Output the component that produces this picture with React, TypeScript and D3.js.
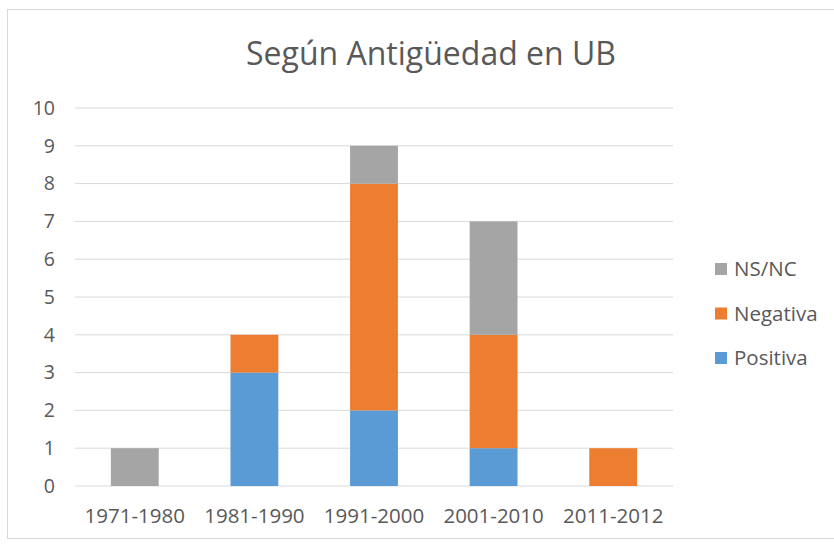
import React from "react";
import * as d3 from "d3";

const categories = ["1971-1980", "1981-1990", "1991-2000", "2001-2010", "2011-2012"];
const positiva = [0, 3, 2, 1, 0];
const negativa = [0, 1, 6, 3, 1];
const nsnc = [1, 0, 1, 3, 0];
const yTicks = [0, 1, 2, 3, 4, 5, 6, 7, 8, 9, 10];
const seriesNames = ["Positiva", "Negativa", "NS/NC"];
const seriesColors = ["#5B9BD5", "#ED7D31", "#A5A5A5"];

const W = 834, H = 545;
const FONT = "'Open Sans', 'Noto Sans', sans-serif";

export default function App() {
  const rows = categories.map((c, i) => ({ cat: c, Positiva: positiva[i], Negativa: negativa[i], "NS/NC": nsnc[i] }));
  const stack = d3.stack<any>().keys(seriesNames)(rows);
  const x = d3.scaleBand().domain(categories).range([75, 673]).paddingInner(0.6).paddingOuter(0.3);
  const y = d3.scaleLinear().domain([0, 10]).range([486, 108]);
  const legendOrder = [2, 1, 0];
  return (
    <svg width={W} height={H} style={{ position: "absolute", left: 0, top: 0 }} fontFamily={FONT}>
      <rect x={0} y={0} width={W} height={H} fill="#fff" />
      <rect x={7.5} y={9.5} width={W} height={529} fill="none" stroke="#d9d9d9" />
      <text x={431} y={65} textAnchor="middle" fontSize={32} fill="#595959">Según Antigüedad en UB</text>
      {yTicks.map((t) => (
        <g key={t}>
          <line x1={75} x2={673} y1={y(t)} y2={y(t)} stroke="#d9d9d9" strokeWidth={1} />
          <text x={55} y={y(t)} dy="0.35em" textAnchor="end" fontSize={19.5} fill="#595959">{t}</text>
        </g>
      ))}
      {stack.map((s, si) => (
        <g key={s.key} fill={seriesColors[si]}>
          {s.map((d, i) => (d[1] - d[0] > 0 ? (
            <rect key={i} x={x(categories[i])} width={x.bandwidth()} y={y(d[1])} height={y(d[0]) - y(d[1])} />
          ) : null))}
        </g>
      ))}
      {categories.map((c) => (
        <text key={c} x={(x(c) as number) + x.bandwidth() / 2} y={516} dy="0.35em" textAnchor="middle" fontSize={20.5} fill="#595959">{c}</text>
      ))}
      {legendOrder.map((si, k) => (
        <g key={si} transform={`translate(715, ${269 + k * 44.5})`}>
          <rect x={0} y={-6} width={12} height={12} fill={seriesColors[si]} />
          <text x={19} y={0} dy="0.35em" fontSize={20.5} fill="#595959">{seriesNames[si]}</text>
        </g>
      ))}
    </svg>
  );
}
